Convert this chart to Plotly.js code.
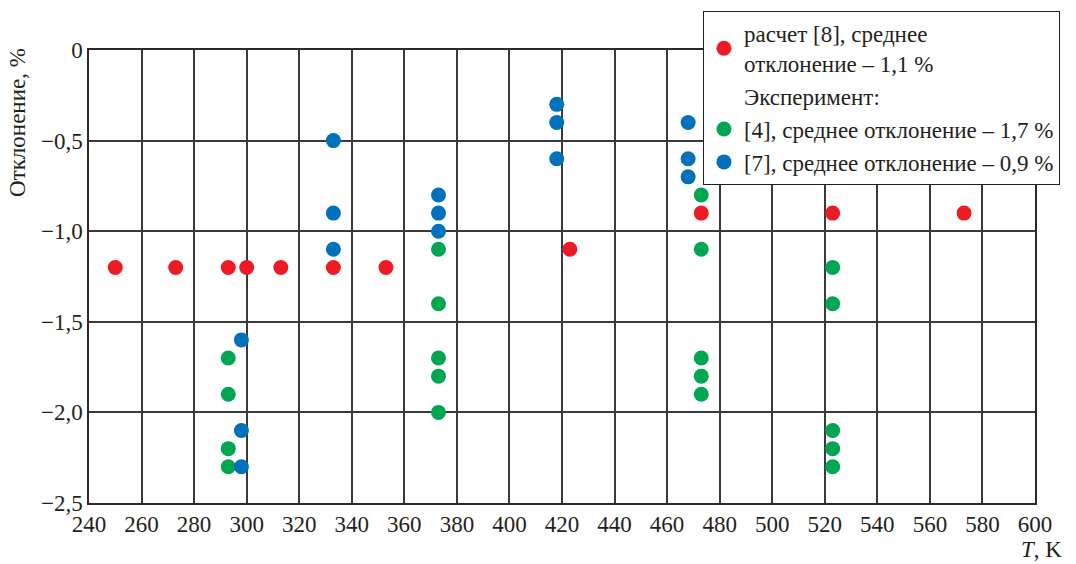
<!DOCTYPE html>
<html>
<head>
<meta charset="utf-8">
<script src="https://cdn.plot.ly/plotly-3.0.1.min.js"></script>
<style>html,body{margin:0;padding:0;background:#fff;}</style>
</head>
<body>
<div id="chart" style="width:1076px;height:564px;"></div>
<script>
// Calculation [8]
const calcT = [250, 273, 293, 300, 313, 333, 353, 423, 473, 523, 573];
const calcDev = [-1.2, -1.2, -1.2, -1.2, -1.2, -1.2, -1.2, -1.1, -0.9, -0.9, -0.9];
// Experiment [4]
const exp4T = [293, 293, 293, 293, 373, 373, 373, 373, 373, 473, 473, 473, 473, 473, 523, 523, 523, 523, 523];
const exp4Dev = [-1.7, -1.9, -2.2, -2.3, -1.1, -1.4, -1.7, -1.8, -2.0, -0.8, -1.1, -1.7, -1.8, -1.9, -1.2, -1.4, -2.1, -2.2, -2.3];
// Experiment [7]
const exp7T = [298, 298, 298, 333, 333, 333, 373, 373, 373, 418, 418, 418, 468, 468, 468];
const exp7Dev = [-1.6, -2.1, -2.3, -0.5, -0.9, -1.1, -0.8, -0.9, -1.0, -0.3, -0.4, -0.6, -0.4, -0.6, -0.7];

const xTicks = [240, 260, 280, 300, 320, 340, 360, 380, 400, 420, 440, 460, 480, 500, 520, 540, 560, 580, 600];
const yTickVals = [0, -0.5, -1.0, -1.5, -2.0, -2.5];
const yTickText = ['0', '\u22120,5', '\u22121,0', '\u22121,5', '\u22122,0', '\u22122,5'];

const names = ['расчет [8], среднее<br>отклонение – 1,1 %', 'Эксперимент:', '[4], среднее отклонение – 1,7 %', '[7], среднее отклонение – 0,9 %'];

const mk = (c) => ({color: c, size: 15, line: {width: 0}});
const traces = [
  {x: calcT, y: calcDev, mode: 'markers', type: 'scatter', name: names[0], marker: mk('#ED1C24')},
  {x: [null], y: [null], mode: 'markers', type: 'scatter', name: names[1], marker: {color: 'rgba(0,0,0,0)', size: 1}},
  {x: exp4T, y: exp4Dev, mode: 'markers', type: 'scatter', name: names[2], marker: mk('#00A651')},
  {x: exp7T, y: exp7Dev, mode: 'markers', type: 'scatter', name: names[3], marker: mk('#0072BC')}
];

const F = (s) => ({family: 'Liberation Serif', size: s, color: '#231F20'});
const axis = (extra) => Object.assign({
  showgrid: true, gridcolor: '#3a3a3a', gridwidth: 1.5,
  showline: true, linecolor: '#2a2a2a', linewidth: 1.5, mirror: true,
  zeroline: false, ticks: '', tickfont: F(23)
}, extra);

const layout = {
  width: 1076, height: 564,
  margin: {l: 89, r: 41, t: 49, b: 61},
  paper_bgcolor: '#fff', plot_bgcolor: '#fff',
  font: F(23),
  showlegend: true,
  xaxis: axis({range: [240, 600], tickvals: xTicks, ticktext: xTicks.map(String)}),
  yaxis: axis({range: [-2.5, 0], tickvals: yTickVals, ticktext: yTickText}),
  legend: {
    x: 0.649, y: 1.084, xanchor: 'left', yanchor: 'top',
    bgcolor: '#fff', bordercolor: '#231F20', borderwidth: 1,
    font: F(23), tracegroupgap: 0
  },
  annotations: [
    {text: 'Отклонение, %', textangle: -90, xref: 'paper', yref: 'paper', x: -0.075, y: 0.839,
     xanchor: 'center', yanchor: 'middle', showarrow: false, font: F(23)},
    {text: '<i>T</i>, K', xref: 'paper', yref: 'paper', x: 1.007, y: -0.1035,
     xanchor: 'center', yanchor: 'middle', showarrow: false, font: F(23)}
  ]
};

Plotly.newPlot('chart', traces, layout, {displayModeBar: false});
</script>
</body>
</html>
